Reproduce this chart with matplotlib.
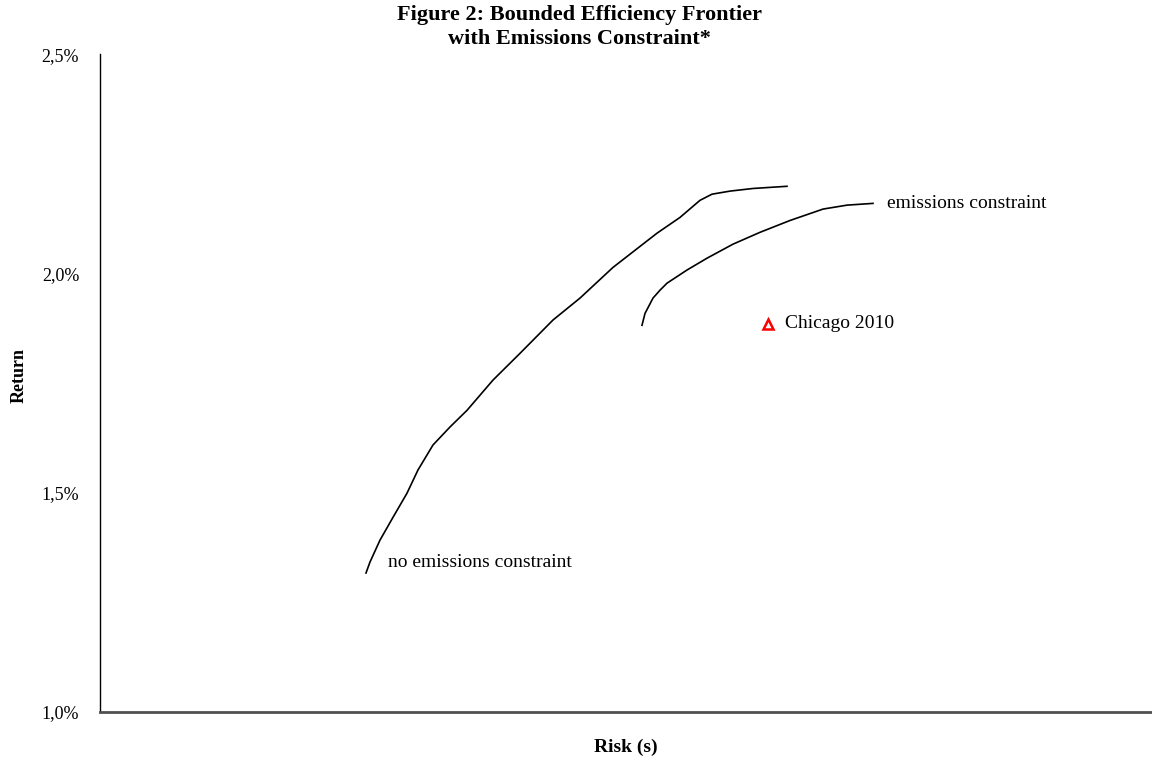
import matplotlib
matplotlib.use("Agg")
import matplotlib.pyplot as plt
from matplotlib.ticker import FuncFormatter

plt.rcParams['font.family'] = ['Liberation Serif', 'DejaVu Serif']

# frontier without emissions constraint (risk, return %)
risk_free = [2.66, 2.70, 2.80, 2.93, 3.07, 3.18, 3.33, 3.50, 3.67, 3.93, 4.20,
             4.53, 4.80, 5.13, 5.57, 5.80, 6.00, 6.12, 6.30, 6.53, 6.87]
ret_free = [1.317, 1.342, 1.392, 1.444, 1.499, 1.552, 1.609, 1.650, 1.688, 1.757, 1.818,
            1.894, 1.944, 2.014, 2.092, 2.128, 2.167, 2.181, 2.188, 2.194, 2.199]

# frontier with emissions constraint
risk_con = [5.42, 5.45, 5.53, 5.60, 5.67, 5.87, 6.07, 6.33, 6.60, 6.90, 7.23, 7.47, 7.73]
ret_con = [1.882, 1.909, 1.944, 1.962, 1.978, 2.008, 2.035, 2.067, 2.094, 2.121, 2.147, 2.156, 2.160]

# Chicago 2010 portfolio
chicago_risk = [6.68]
chicago_ret = [1.884]

yticks = [1.0, 1.5, 2.0, 2.5]

fig = plt.figure(figsize=(11.52, 7.65), dpi=100)
ax = fig.add_axes([0.0868, 0.0693, 0.9132, 0.8597])

ax.plot(risk_free, ret_free, color='black', lw=1.2)
ax.plot(risk_con, ret_con, color='black', lw=1.2)
ax.plot(chicago_risk, chicago_ret, marker='^', ls='none', ms=7,
        mfc='white', mec='red', mew=1.8)

ax.text(2.88, 1.34, 'no emissions constraint', fontsize=14, va='center', ha='left')
ax.text(7.87, 2.16, 'emissions constraint', fontsize=14, va='center', ha='left')
ax.text(6.85, 1.886, 'Chicago 2010', fontsize=14, va='center', ha='left')

ax.set_xlim(0, 10.52)
ax.set_ylim(1.0, 2.5)
ax.set_yticks(yticks)
ax.yaxis.set_major_formatter(FuncFormatter(lambda v, p: f'{v:.1f}%'.replace('.', ',')))
ax.set_xticks([])
ax.tick_params(axis='y', length=0, pad=15, labelsize=13)

ax.spines['top'].set_visible(False)
ax.spines['right'].set_visible(False)
ax.spines['left'].set_color('black')
ax.spines['left'].set_linewidth(1)
ax.spines['bottom'].set_color('#505050')
ax.spines['bottom'].set_linewidth(2)

ax.set_ylabel('Return', fontsize=13, fontweight='bold')
ax.yaxis.set_label_coords(-0.069, 0.512)
ax.set_xlabel('Risk (s)', fontsize=14, fontweight='bold')
ax.xaxis.set_label_coords(0.5, -0.04)

fig.text(0.503, 0.994, 'Figure 2: Bounded Efficiency Frontier\nwith Emissions Constraint*',
         ha='center', va='top', fontsize=16, fontweight='bold', linespacing=1.3)

fig.savefig('out.png', dpi=100)
